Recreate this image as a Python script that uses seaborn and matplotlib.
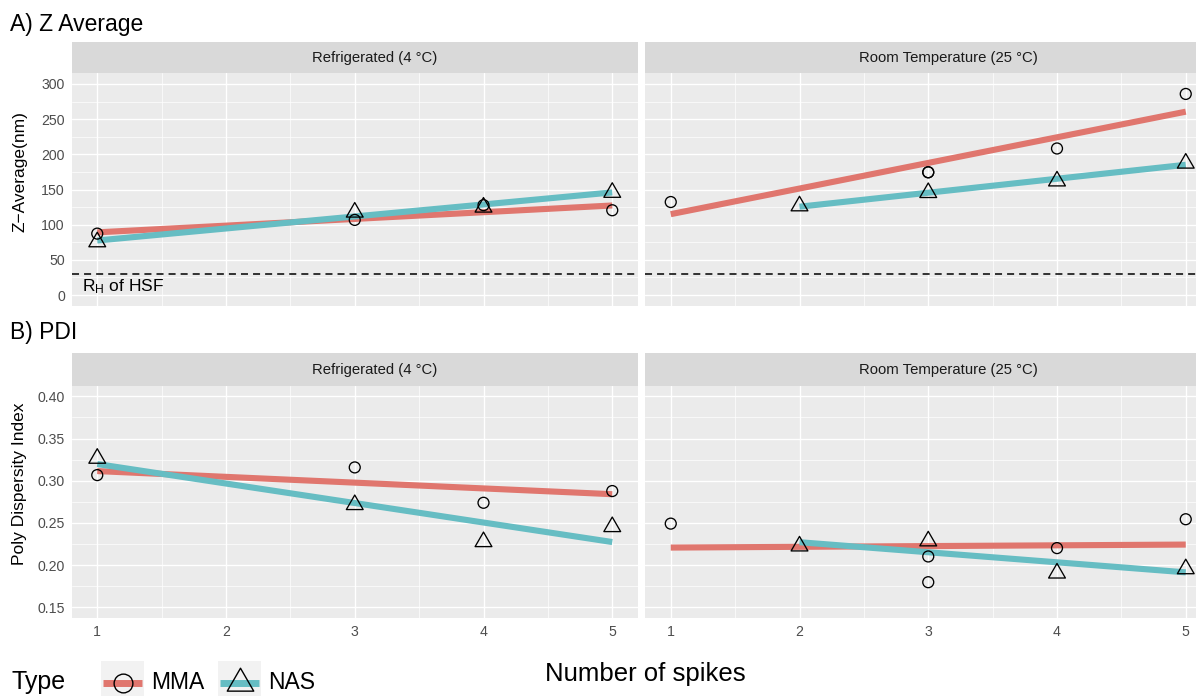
import numpy as np
import pandas as pd
import matplotlib
matplotlib.use("Agg")
import matplotlib.pyplot as plt
import seaborn as sns
from matplotlib.path import Path
from matplotlib.patches import Rectangle
from matplotlib.lines import Line2D
from matplotlib.ticker import MultipleLocator, FixedLocator
from matplotlib.transforms import offset_copy

# ---------------- data ----------------
storage_levels = ["Refrigerated (4 °C)", "Room Temperature (25 °C)"]
type_levels = ["MMA", "NAS"]

# Refrigerated (4 °C)
fridge_mma_spikes = [1, 3, 4, 5]
fridge_mma_z = [87.3, 106.8, 127.7, 120.5]
fridge_mma_pdi = [0.3067, 0.3158, 0.2739, 0.2878]

fridge_nas_spikes = [1, 3, 4, 5]
fridge_nas_z = [75.5, 117.7, 124.8, 145.8]
fridge_nas_pdi = [0.3265, 0.2716, 0.2277, 0.2455]

# Room Temperature (25 °C)
room_mma_spikes = [1, 3, 3, 4, 5]
room_mma_z = [132.2, 174.5, 174.5, 208.3, 285.8]
room_mma_pdi = [0.2492, 0.2103, 0.1798, 0.2202, 0.2544]

room_nas_spikes = [2, 3, 4, 5]
room_nas_z = [126.6, 145.5, 162.0, 187.3]
room_nas_pdi = [0.2226, 0.2286, 0.1905, 0.1956]

hsf_rh = 30  # R_H of HSF reference line (nm)

z_ticks = [0, 50, 100, 150, 200, 250, 300]
pdi_ticks = [0.15, 0.20, 0.25, 0.30, 0.35, 0.40]
spike_ticks = [1, 2, 3, 4, 5]

frames = []
for st, typ, sp, z, p in [
    (storage_levels[0], "MMA", fridge_mma_spikes, fridge_mma_z, fridge_mma_pdi),
    (storage_levels[0], "NAS", fridge_nas_spikes, fridge_nas_z, fridge_nas_pdi),
    (storage_levels[1], "MMA", room_mma_spikes, room_mma_z, room_mma_pdi),
    (storage_levels[1], "NAS", room_nas_spikes, room_nas_z, room_nas_pdi),
]:
    frames.append(pd.DataFrame({"Storage": st, "Type": typ, "Spikes": sp,
                                "Z": z, "PDI": p}))
df = pd.concat(frames, ignore_index=True)

# ---------------- style ----------------
sns.set_theme(style="darkgrid")
plt.rcParams["font.family"] = ["Liberation Sans", "DejaVu Sans"]
plt.rcParams["mathtext.fontset"] = "custom"
plt.rcParams["mathtext.rm"] = "Liberation Sans"
plt.rcParams["mathtext.it"] = "Liberation Sans:italic"
plt.rcParams["axes.unicode_minus"] = True

line_colors = {"MMA": "#E0766E", "NAS": "#66BDC3"}
tri = Path([(0, 1), (-0.866, -0.5), (0.866, -0.5), (0, 1)],
           [Path.MOVETO, Path.LINETO, Path.LINETO, Path.CLOSEPOLY])
marker_map = {"MMA": "o", "NAS": tri}
marker_size = {"MMA": 62, "NAS": 195}

W, H = 1196, 696
fig = plt.figure(figsize=(W / 100, H / 100), dpi=100)
fig.patch.set_facecolor("white")


def box(x0, y0, x1, y1):
    return [x0 / W, 1 - y1 / H, (x1 - x0) / W, (y1 - y0) / H]


panel_x = [(71.5, 638.0), (645.0, 1211.5)]
rows = [dict(var="Z", strip=(41.7, 73.4), panel=(73.4, 305.6),
             lim=(-15, 315), ticks=z_ticks, minor=25, xlab=False,
             title="A) Z Average", title_y=30.5,
             ylabel="Z\u2212Average(nm)", ylab_y=172),
        dict(var="PDI", strip=(352.7, 385.8), panel=(385.8, 617.9),
             lim=(0.1375, 0.4125), ticks=pdi_ticks, minor=0.025, xlab=True,
             title="B) PDI", title_y=338.5,
             ylabel="Poly Dispersity Index", ylab_y=484)]

for r in rows:
    for j, st in enumerate(storage_levels):
        x0, x1 = panel_x[j]
        ax = fig.add_axes(box(x0, r["panel"][0], x1, r["panel"][1]))
        ax.set_facecolor("#EBEBEB")
        for s in ax.spines.values():
            s.set_visible(False)
        sub = df[df["Storage"] == st]
        for typ in type_levels:
            d = sub[sub["Type"] == typ]
            sns.regplot(data=d, x="Spikes", y=r["var"], scatter=False, ci=None,
                        truncate=True, color=line_colors[typ], ax=ax,
                        line_kws=dict(lw=4.4, solid_capstyle="butt", zorder=3))
        for typ in type_levels:
            d = sub[sub["Type"] == typ]
            sns.scatterplot(data=d, x="Spikes", y=r["var"], marker=marker_map[typ],
                            s=marker_size[typ], facecolor="none", edgecolor="black",
                            linewidth=0.95, ax=ax, zorder=4, legend=False)
        if r["var"] == "Z":
            ax.axhline(hsf_rh, color="black", lw=1.1, ls=(0, (4.6, 3.3)), zorder=2.5)
            if j == 0:
                ax.text(1.2, 12, r"R$_\mathrm{H}$ of HSF", ha="center", va="center",
                        fontsize=12.5, color="black", zorder=5)
        ax.set_xlim(0.8, 5.2)
        ax.set_ylim(*r["lim"])
        ax.xaxis.set_major_locator(FixedLocator(spike_ticks))
        ax.xaxis.set_minor_locator(FixedLocator([1.5, 2.5, 3.5, 4.5]))
        ax.yaxis.set_major_locator(FixedLocator(r["ticks"]))
        ax.yaxis.set_minor_locator(MultipleLocator(r["minor"]))
        ax.grid(which="major", color="white", lw=1.0)
        ax.grid(which="minor", color="white", lw=0.5)
        ax.set_axisbelow(True)
        ax.set_xlabel("")
        ax.set_ylabel("")
        ax.tick_params(which="minor", length=0)
        ax.tick_params(axis="both", which="major", length=3, width=0.8,
                       color="#333333", labelcolor="#4D4D4D", labelsize=10.2, pad=1.8)
        if r["var"] == "Z":
            ax.set_yticklabels([str(t) for t in r["ticks"]])
        else:
            ax.set_yticklabels([f"{t:.2f}" for t in r["ticks"]])
        if not r["xlab"]:
            ax.tick_params(axis="x", length=0, labelbottom=False)
        else:
            ax.set_xticklabels([str(t) for t in spike_ticks])
        if j == 1:
            ax.tick_params(axis="y", length=0, labelleft=False)
        # facet strip
        sax = fig.add_axes(box(x0, r["strip"][0], x1, r["strip"][1]))
        sax.set_facecolor("#D9D9D9")
        sax.set_xticks([])
        sax.set_yticks([])
        for s in sax.spines.values():
            s.set_visible(False)
        sax.text(0.5, 0.48, st, ha="center", va="center", fontsize=10.7,
                 color="#1A1A1A",
                 transform=offset_copy(sax.transAxes, fig=fig, x=20, y=0, units="dots"))
    fig.text(10 / W, 1 - r["title_y"] / H, r["title"], fontsize=16.5,
             ha="left", va="baseline", color="black")
    fig.text(20 / W, 1 - r["ylab_y"] / H, r["ylabel"], fontsize=12.5, rotation=90,
             ha="center", va="center", color="black")

# x axis title
fig.text(645 / W, 1 - 681 / H, "Number of spikes", fontsize=18.5,
         ha="center", va="baseline", color="black")

# legend (drawn in a figure-pixel overlay)
lax = fig.add_axes([0, 0, 1, 1], zorder=10)
lax.set_xlim(0, W)
lax.set_ylim(H, 0)
lax.axis("off")
lax.patch.set_alpha(0)
lax.text(11, 689, "Type", fontsize=18, ha="left", va="baseline", color="black")
key_x = {"MMA": 101, "NAS": 218}
for typ in type_levels:
    kx = key_x[typ]
    lax.add_patch(Rectangle((kx, 660.5), 43, 36, facecolor="#F2F2F2", edgecolor="none"))
    lax.add_line(Line2D([kx + 2, kx + 41], [682.5, 682.5], color=line_colors[typ],
                        lw=5.0, solid_capstyle="butt"))
    lax.plot([kx + 21.5], [682.5], marker=marker_map[typ],
             ms=13.5 if typ == "MMA" else 22, mfc="none", mec="black", mew=1.0)
    lax.text(kx + 50, 689, typ, fontsize=16.5, ha="left", va="baseline", color="black")

fig.savefig("out.png", dpi=100, facecolor="white")
